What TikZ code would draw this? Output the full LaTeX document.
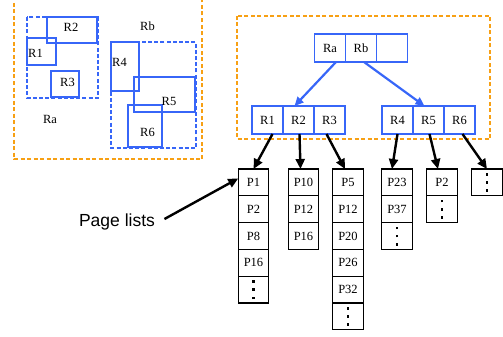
\documentclass[tikz,border=0pt]{standalone}
\usepackage{fontspec}
\setmainfont{Liberation Serif}
\newfontfamily\sansfont{Liberation Sans}
\usetikzlibrary{arrows.meta,positioning}
\definecolor{rblue}{RGB}{55,102,248}
\definecolor{rorange}{RGB}{247,160,20}
\newcommand{\pgdot}{\hbox{\rule{2.6pt}{2.6pt}}}
\newcommand{\pgdots}{\vbox{\offinterlineskip\pgdot\vskip5.6pt\pgdot\vskip5.6pt\pgdot}}
\tikzset
{
    keycell/.style = {rectangle, draw=rblue, line width=1.7pt, minimum width=31pt, minimum height=28pt, inner sep=0pt, outer sep=0pt, font=\fontsize{12.5}{14}\selectfont},
    pagecell/.style = {rectangle, draw=black, line width=1.2pt, minimum width=30.5pt, minimum height=26.8pt, inner sep=0pt, outer sep=0pt, font=\fontsize{12.5}{14}\selectfont},
    regionbox/.style = {draw=rblue, line width=1.3pt},
    mbrbox/.style = {draw=rblue, line width=2pt, dash pattern=on 4pt off 2.2pt},
    groupbox/.style = {draw=rorange, line width=1.9pt, dash pattern=on 4pt off 2.5pt},
    rlabel/.style = {font=\fontsize{12.5}{14}\selectfont, inner sep=0pt},
    treearrow/.style = {draw=rblue, line width=2.2pt, -{Triangle[length=9pt,width=8pt]}},
    pagearrow/.style = {draw=black, line width=2.4pt, -{Triangle[length=10pt,width=9pt]}}
}
\begin{document}
\begin{tikzpicture}[x=1pt,y=-1pt]
	\clip (0,0) rectangle (503,337);
	% left: the regions in space
	\draw[groupbox] (14,-10) rectangle (202,159);
	\draw[mbrbox] (27,17) rectangle (98,98);
	\draw[regionbox] (47,17) rectangle (97,43);
	\draw[regionbox] (27,38) rectangle (56,65);
	\draw[regionbox] (51,71) rectangle (79,97);
	\draw[mbrbox] (111,42) rectangle (196,148);
	\draw[regionbox] (111,42) rectangle (139,91);
	\draw[regionbox] (134,77) rectangle (195,112);
	\draw[regionbox] (128,105) rectangle (162,147);
	\node[rlabel] (lr1) at (35.5,53) {R1};
	\node[rlabel] (lr2) at (71,27) {R2};
	\node[rlabel] (lr3) at (67.5,82) {R3};
	\node[rlabel] (lra) at (50,119) {Ra};
	\node[rlabel] (lrb) at (147.5,26) {Rb};
	\node[rlabel] (lr4) at (119.5,62.5) {R4};
	\node[rlabel] (lr5) at (169,101) {R5};
	\node[rlabel] (lr6) at (147.5,132.5) {R6};
	% right: the tree
	\draw[groupbox] (237,16) rectangle (490,139);
	\node[keycell] (ra) at (330,48) {Ra};
	\node[keycell, right=0pt of ra] (rb) {Rb};
	\node[keycell, right=0pt of rb] (rx) {};
	\node[keycell] (r1) at (267.5,120) {R1};
	\node[keycell, right=0pt of r1] (r2) {R2};
	\node[keycell, right=0pt of r2] (r3) {R3};
	\node[keycell] (r4) at (397.5,120) {R4};
	\node[keycell, right=0pt of r4] (r5) {R5};
	\node[keycell, right=0pt of r5] (r6) {R6};
	\draw[treearrow] ([xshift=6pt]ra.south) -- ([xshift=-4pt]r2.north);
	\draw[treearrow] ([xshift=3pt]rb.south) -- ([xshift=-4pt]r5.north);
	% page lists
	\foreach \lbl [count=\i] in {P1,P2,P8,P16,\pgdots}
		\node[pagecell] (pa-\i) at (253.5,{155.6+26.8*\i}) {\lbl};
	\foreach \lbl [count=\i] in {P10,P12,P16}
		\node[pagecell] (pb-\i) at (303.5,{155.6+26.8*\i}) {\lbl};
	\foreach \lbl [count=\i] in {P5,P12,P20,P26,P32,\pgdots}
		\node[pagecell] (pc-\i) at (348,{155.6+26.8*\i}) {\lbl};
	\foreach \lbl [count=\i] in {P23,P37,\pgdots}
		\node[pagecell] (pd-\i) at (397,{155.6+26.8*\i}) {\lbl};
	\foreach \lbl [count=\i] in {P2,\pgdots}
		\node[pagecell] (pe-\i) at (442,{155.6+26.8*\i}) {\lbl};
	\node[pagecell] (pf-1) at (487,182.4) {\pgdots};
	\draw[pagearrow] ([xshift=5pt]r1.south) -- (pa-1.north);
	\draw[pagearrow] ([xshift=1pt]r2.south) -- ([xshift=-3pt]pb-1.north);
	\draw[pagearrow] ([xshift=-3pt]r3.south) -- ([xshift=-3pt]pc-1.north);
	\draw[pagearrow] (r4.south) -- ([xshift=-5pt]pd-1.north);
	\draw[pagearrow] ([xshift=1pt]r5.south) -- ([xshift=-4pt]pe-1.north);
	\draw[pagearrow] ([xshift=3pt]r6.south) -- (pf-1.north);
	\node[font=\sansfont\fontsize{17.5}{20}\selectfont] (plist) at (117,222) {Page lists};
	\draw[pagearrow] ([xshift=6pt,yshift=3pt]plist.east) -- ([yshift=4pt]pa-1.west);
\end{tikzpicture}
\end{document}
